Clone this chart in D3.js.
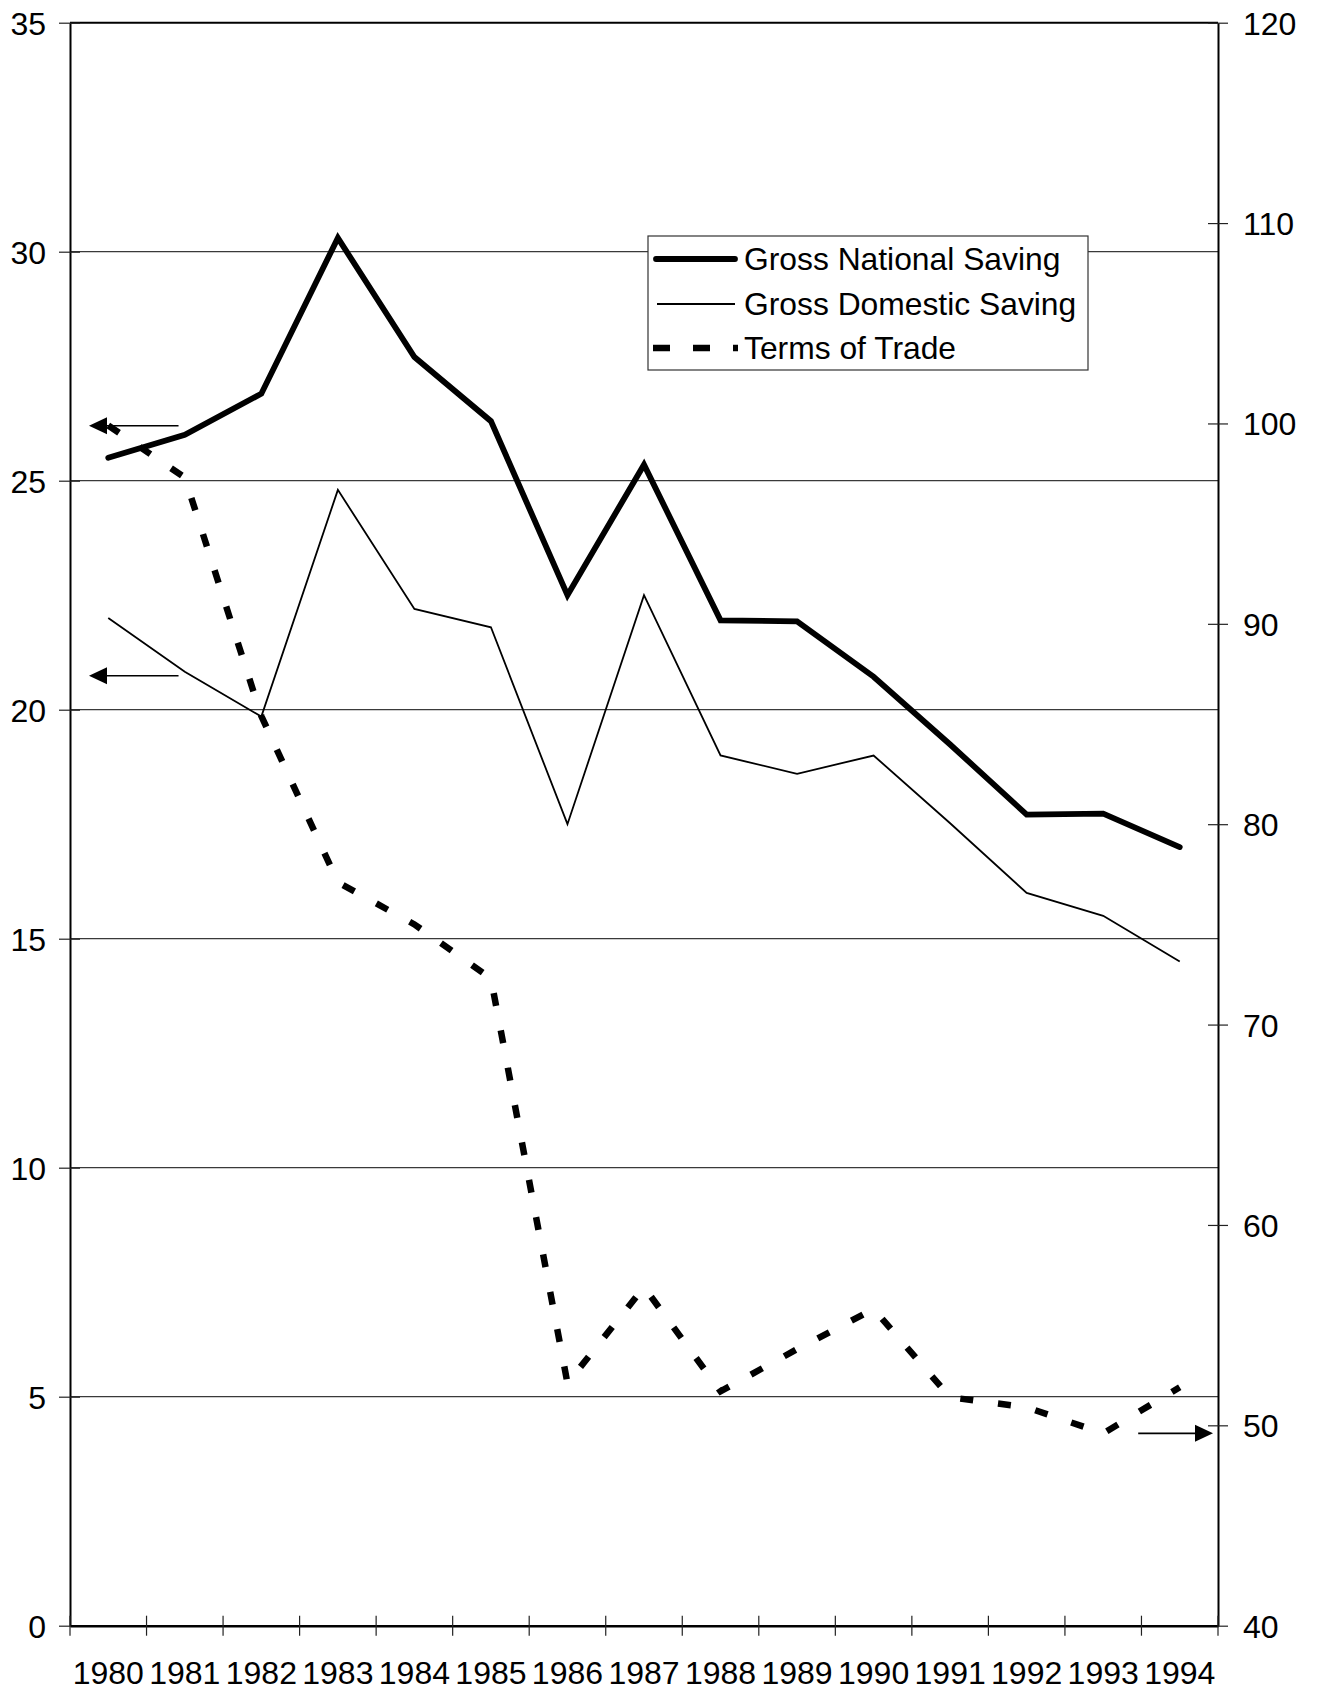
<!DOCTYPE html>
<html>
<head>
<meta charset="utf-8">
<script src="https://cdn.jsdelivr.net/npm/d3@7"></script>
<style>
  html, body { margin: 0; padding: 0; background: #fff; }
  svg { display: block; font-family: "Liberation Sans", Arial, sans-serif; }
</style>
</head>
<body>
<svg id="chart" width="1317" height="1691"></svg>
<script>
// ---- data ----
const years = ["1980","1981","1982","1983","1984","1985","1986","1987","1988","1989","1990","1991","1992","1993","1994"];
const grossNationalSaving = [25.5, 26.0, 26.9, 30.3, 27.7, 26.3, 22.5, 25.35, 21.95, 21.93, 20.72, 19.24, 17.71, 17.73, 17.0];
const grossDomesticSaving = [22.0, 20.83, 19.85, 24.8, 22.2, 21.8, 17.5, 22.5, 19.0, 18.6, 19.0, 17.52, 16.0, 15.5, 14.5];
const termsOfTrade = [99.9, 97.3, 85.4, 77.1, 75.0, 72.3, 52.1, 56.9, 51.7, 53.8, 55.8, 51.4, 50.9, 49.6, 51.9];
const leftTicks = [0, 5, 10, 15, 20, 25, 30, 35];
const rightTicks = [40, 50, 60, 70, 80, 90, 100, 110, 120];
const seriesNames = ["Gross National Saving", "Gross Domestic Saving", "Terms of Trade"];

// ---- layout ----
const X0 = 70, X1 = 1218, YTOP = 22.7, YBOT = 1625.7;
const FONT = "'Liberation Sans', Arial, sans-serif";
const svg = d3.select("#chart");

const x = d3.scaleBand().domain(years).range([X0, X1]).padding(0);
const xc = d => x(d) + x.bandwidth() / 2;
const yL = d3.scaleLinear().domain([0, 35]).range([YBOT, YTOP]);
const yR = d3.scaleLinear().domain([40, 120]).range([YBOT, YTOP]);

// gridlines
svg.append("g").selectAll("line")
  .data(leftTicks.filter(v => v > 0 && v < 35))
  .join("line")
  .attr("x1", X0).attr("x2", X1)
  .attr("y1", d => yL(d)).attr("y2", d => yL(d))
  .attr("stroke", "#3a3a3a").attr("stroke-width", 1.2);

// top border
svg.append("line").attr("x1", X0).attr("x2", X1)
  .attr("y1", yL(35)).attr("y2", yL(35))
  .attr("stroke", "#000").attr("stroke-width", 2);

// left axis
const gL = svg.append("g").attr("transform", `translate(${X0},0)`)
  .call(d3.axisLeft(yL).tickValues(leftTicks).tickSize(11).tickSizeOuter(0));
gL.select(".domain").attr("stroke", "#000").attr("stroke-width", 2);
gL.selectAll(".tick line").attr("x1", 10).attr("x2", -11).attr("stroke", "#222").attr("stroke-width", 1.2);
gL.selectAll(".tick text").attr("x", -24).attr("dy", "0.36em")
  .style("font-size", "32px").style("font-family", FONT).attr("fill", "#000");

// right axis
const gR = svg.append("g").attr("transform", `translate(${X1},0)`)
  .call(d3.axisRight(yR).tickValues(rightTicks).tickSize(10).tickSizeOuter(0));
gR.select(".domain").attr("stroke", "#000").attr("stroke-width", 2);
gR.selectAll(".tick line").attr("x1", -10).attr("x2", 10).attr("stroke", "#222").attr("stroke-width", 1.2);
gR.selectAll(".tick text").attr("x", 25).attr("dy", "0.36em")
  .style("font-size", "32px").style("font-family", FONT).attr("fill", "#000");

// bottom axis
const gB = svg.append("g").attr("transform", `translate(0,${YBOT})`)
  .call(d3.axisBottom(x).tickSize(0).tickSizeOuter(0));
gB.select(".domain").attr("stroke", "#000").attr("stroke-width", 2.5);
gB.selectAll(".tick text").attr("y", 58).attr("dy", 0)
  .style("font-size", "32px").style("font-family", FONT).attr("fill", "#000");
// boundary tick marks (crossing)
gB.append("g").selectAll("line")
  .data(d3.range(years.length + 1))
  .join("line")
  .attr("x1", i => X0 + i * x.step()).attr("x2", i => X0 + i * x.step())
  .attr("y1", -10).attr("y2", 10)
  .attr("stroke", "#222").attr("stroke-width", 1.2);

// lines
const lineL = d3.line().x((d, i) => xc(years[i])).y(d => yL(d));
const lineR = d3.line().x((d, i) => xc(years[i])).y(d => yR(d));

svg.append("path").datum(grossDomesticSaving)
  .attr("d", lineL).attr("fill", "none").attr("stroke", "#000").attr("stroke-width", 1.8);

svg.append("path").datum(termsOfTrade)
  .attr("d", lineR).attr("fill", "none").attr("stroke", "#000").attr("stroke-width", 6.5)
  .attr("stroke-dasharray", "13 25").attr("stroke-linecap", "butt");

svg.append("path").datum(grossNationalSaving)
  .attr("d", lineL).attr("fill", "none").attr("stroke", "#000").attr("stroke-width", 5.8)
  .attr("stroke-linecap", "round").attr("stroke-linejoin", "miter");

// arrows (annotations pointing to the axis each series uses)
const arrows = [
  { y: yL(26.2), from: x("1981") + 32, to: X0 + 19 },
  { y: yL(20.74), from: x("1981") + 32, to: X0 + 19 },
  { y: yR(49.6), from: xc("1993") + 35, to: X1 - 5 }
];
const ga = svg.append("g");
arrows.forEach(a => {
  const dir = Math.sign(a.to - a.from);
  ga.append("line").attr("x1", a.from).attr("x2", a.to - dir * 10)
    .attr("y1", a.y).attr("y2", a.y).attr("stroke", "#000").attr("stroke-width", 1.6);
  ga.append("path")
    .attr("d", `M${a.to},${a.y} L${a.to - dir * 18},${a.y - 8.5} L${a.to - dir * 18},${a.y + 8.5} Z`)
    .attr("fill", "#000");
});

// legend
const lg = svg.append("g");
lg.append("rect").attr("x", 648).attr("y", 236).attr("width", 440).attr("height", 134)
  .attr("fill", "#fff").attr("stroke", "#333").attr("stroke-width", 1.2);
const legendRows = [
  { name: seriesNames[0], y: 259, sw: 5.8, dash: null, x1: 656, x2: 735 },
  { name: seriesNames[1], y: 304, sw: 1.8, dash: null, x1: 657, x2: 735 },
  { name: seriesNames[2], y: 348, sw: 6.5, dash: "17 23", x1: 653, x2: 738 }
];
legendRows.forEach(r => {
  const l = lg.append("line").attr("x1", r.x1).attr("x2", r.x2).attr("y1", r.y).attr("y2", r.y)
    .attr("stroke", "#000").attr("stroke-width", r.sw)
    .attr("stroke-linecap", r.dash ? "butt" : (r.sw > 3 ? "round" : "butt"));
  if (r.dash) l.attr("stroke-dasharray", r.dash);
  lg.append("text").attr("x", 744).attr("y", r.y + 11).text(r.name)
    .style("font-size", "31.8px").style("font-family", FONT).attr("fill", "#000");
});
</script>
</body>
</html>
